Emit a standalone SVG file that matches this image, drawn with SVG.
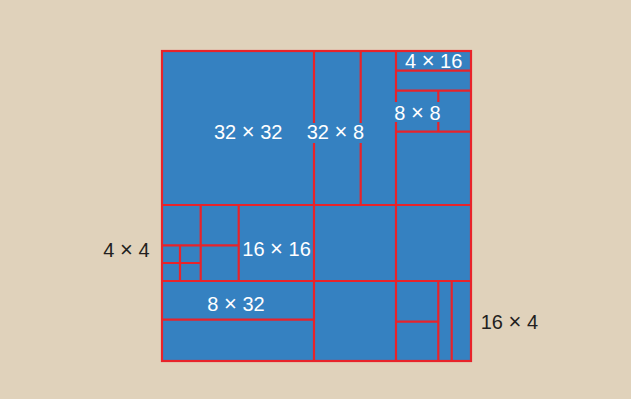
<svg xmlns="http://www.w3.org/2000/svg" width="631" height="399" viewBox="0 0 631 399">
<style>
.ln{stroke:#e8232a;stroke-width:2.2;fill:none}
.lbl{font-family:"Liberation Sans",Arial,sans-serif;font-size:20px}
.x{font-size:22px}
.w{fill:#ffffff}
.d{fill:#231f20}
.blk{fill:#3581c1}
</style>
<rect x="0" y="0" width="631" height="399" fill="#e0d2bb"/>
<g id="block">
<rect class="blk" x="162" y="51" width="309" height="310"/>
</g>
<g id="partitions">
<rect class="ln" x="162" y="51" width="309" height="310"/>
<line class="ln" x1="314" y1="51" x2="314" y2="361"/>
<line class="ln" x1="396" y1="51" x2="396" y2="361"/>
<line class="ln" x1="162" y1="205" x2="471" y2="205"/>
<line class="ln" x1="162" y1="281" x2="471" y2="281"/>
<line class="ln" x1="360.7" y1="51" x2="360.7" y2="205"/>
<line class="ln" x1="396" y1="70.7" x2="471" y2="70.7"/>
<line class="ln" x1="396" y1="90.7" x2="471" y2="90.7"/>
<line class="ln" x1="396" y1="131.7" x2="471" y2="131.7"/>
<line class="ln" x1="438.3" y1="90.7" x2="438.3" y2="131.7"/>
<line class="ln" x1="200.7" y1="205" x2="200.7" y2="281"/>
<line class="ln" x1="238.7" y1="205" x2="238.7" y2="281"/>
<line class="ln" x1="162" y1="245.3" x2="238.7" y2="245.3"/>
<line class="ln" x1="180" y1="245.3" x2="180" y2="281"/>
<line class="ln" x1="162" y1="263" x2="200.7" y2="263"/>
<line class="ln" x1="162" y1="319.7" x2="314" y2="319.7"/>
<line class="ln" x1="438.3" y1="281" x2="438.3" y2="361"/>
<line class="ln" x1="451.7" y1="281" x2="451.7" y2="361"/>
<line class="ln" x1="396" y1="321.7" x2="438.3" y2="321.7"/>
</g>
<g id="labels">
<rect class="blk" x="306" y="123" width="59" height="20"/>
<rect class="blk" x="394" y="102" width="46" height="20"/>
<text class="lbl w" x="214" y="138.5">32 <tspan class="x">×</tspan> 32</text>
<text class="lbl w" x="306.7" y="138.5">32 <tspan class="x">×</tspan> 8</text>
<text class="lbl w" x="405" y="67.7">4 <tspan class="x">×</tspan> 16</text>
<text class="lbl w" x="394.3" y="120">8 <tspan class="x">×</tspan> 8</text>
<text class="lbl w" x="242.3" y="256">16 <tspan class="x">×</tspan> 16</text>
<text class="lbl w" x="207.3" y="310.7">8 <tspan class="x">×</tspan> 32</text>
<text class="lbl d" x="103.3" y="257">4 <tspan class="x">×</tspan> 4</text>
<text class="lbl d" x="480.7" y="329.3">16 <tspan class="x">×</tspan> 4</text>
</g>
</svg>
